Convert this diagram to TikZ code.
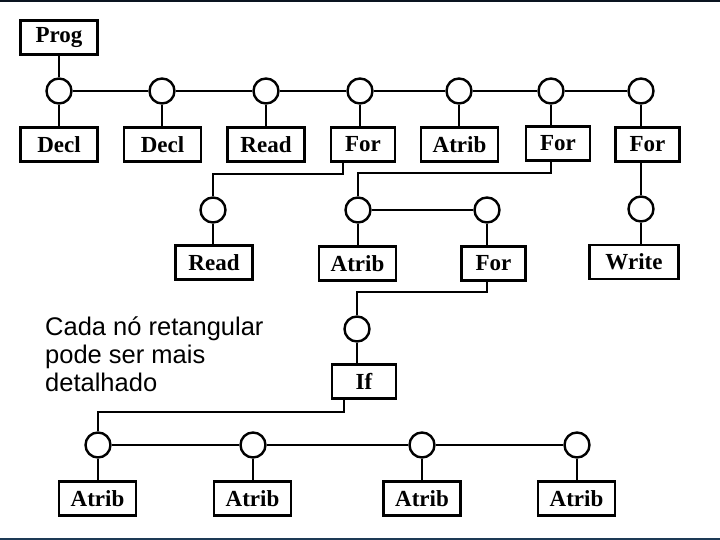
\documentclass[tikz,border=0pt]{standalone}
\usepackage{fontspec}
\setmainfont{Liberation Serif}
\newfontfamily\labelsans{Liberation Sans}
\usetikzlibrary{calc}
\definecolor{topband}{HTML}{0A1420}
\definecolor{botband}{HTML}{1D3A56}
\begin{document}
\begin{tikzpicture}[x=1bp,y=-1bp,
  treebox/.style={draw=black,line width=2.8bp,fill=white,inner sep=0pt,
    minimum height=34bp,font=\fontsize{23bp}{26bp}\selectfont\bfseries},
  w66/.style={minimum width=64bp},
  w79/.style={minimum width=77bp},
  w92/.style={minimum width=89bp},
  joint/.style={circle,draw=black,line width=2.4bp,fill=white,inner sep=0pt,minimum size=25bp},
  link/.style={line width=1.3bp,black},
  boldlink/.style={line width=2bp,black}]
\useasboundingbox (0,0) rectangle (720,540);
\fill[white] (0,0) rectangle (720,540);
\fill[topband] (0,0) rectangle (720,2.5);
\fill[botband] (0,537.5) rectangle (720,540);

% boxes
\node[treebox,w79] (prog) at (59,37.5) {Prog};
\node[treebox,w79] (decl1) at (59,144.5) {Decl};
\node[treebox,w79] (decl2) at (162.5,144.5) {Decl};
\node[treebox,w79] (read1) at (266,144.5) {Read};
\node[treebox,w66] (for1) at (363,144.5) {For};
\node[treebox,w79] (atrib1) at (459.5,144.5) {Atrib};
\node[treebox,w66] (for2) at (558,143.5) {For};
\node[treebox,w66] (for3) at (647.5,144.5) {For};
\node[treebox,w79] (read2) at (214,262.5) {Read};
\node[treebox,w79] (atrib2) at (357.5,263.5) {Atrib};
\node[treebox,w66] (for4) at (493.5,263.5) {For};
\node[treebox,w92] (write) at (634,262) {Write};
\node[treebox,w66] (if) at (364,381.5) {If};
\node[treebox,w79] (ab1) at (97.5,498.5) {Atrib};
\node[treebox,w79] (ab2) at (252.5,498.5) {Atrib};
\node[treebox,w79] (ab3) at (422,498.5) {Atrib};
\node[treebox,w79] (ab4) at (576.5,498.5) {Atrib};

% joints
\node[joint] (c1) at (59,91) {};
\node[joint] (c2) at (162,91) {};
\node[joint] (c3) at (266,91) {};
\node[joint] (c4) at (360,91) {};
\node[joint] (c5) at (459,91) {};
\node[joint] (c6) at (551,91) {};
\node[joint] (c7) at (641,91) {};
\node[joint] (cr2) at (213,210) {};
\node[joint] (ca2) at (358,210) {};
\node[joint] (cf4) at (487,210) {};
\node[joint] (cw) at (641,209) {};
\node[joint] (cif) at (357,329) {};
\node[joint] (cb1) at (98,445) {};
\node[joint] (cb2) at (253,445) {};
\node[joint] (cb3) at (422,445) {};
\node[joint] (cb4) at (577,445) {};

% top level
\draw[link] (prog.south) -- (c1.north);
\draw[link] (c1) -- (c2);
\draw[link] (c2) -- (c3);
\draw[link] (c3) -- (c4);
\draw[link] (c4) -- (c5);
\draw[link] (c5) -- (c6);
\draw[link] (c6) -- (c7);
\draw[link] (c1.south) -- (c1.south |- decl1.north);
\draw[boldlink] (c2.south) -- (c2.south |- decl2.north);
\draw[link] (c3.south) -- (c3.south |- read1.north);
\draw[link] (c4.south) -- (c4.south |- for1.north);
\draw[link] (c5.south) -- (c5.south |- atrib1.north);
\draw[link] (c6.south) -- (c6.south |- for2.north);
\draw[link] (c7.south) -- (c7.south |- for3.north);

% second level
\draw[link] ([xshift=-20bp]for1.south) -- ++(0,11) -| (cr2.north);
\draw[link] (cr2.south) -- (cr2.south |- read2.north);
\draw[link] ([xshift=-7bp]for2.south) -- ++(0,11) -| (ca2.north);
\draw[link] (ca2) -- (cf4);
\draw[link] (ca2.south) -- (ca2.south |- atrib2.north);
\draw[link] (cf4.south) -- (cf4.south |- for4.north);
\draw[link] (cw.north |- for3.south) -- (cw.north);
\draw[link] (cw.south) -- (cw.south |- write.north);

% third level
\draw[link] ([xshift=-6.5bp]for4.south) -- ++(0,10) -| (cif.north);
\draw[link] (cif.south) -- (cif.south |- if.north);
\draw[link] ([xshift=-20bp]if.south) -- ++(0,12) -| (cb1.north);
\draw[boldlink] (cb1) -- (cb2);
\draw[link] (cb2) -- (cb3);
\draw[link] (cb3) -- (cb4);
\draw[link] (cb1.south) -- (cb1.south |- ab1.north);
\draw[link] (cb2.south) -- (cb2.south |- ab2.north);
\draw[link] (cb3.south) -- (cb3.south |- ab3.north);
\draw[boldlink] (cb4.south) -- (cb4.south |- ab4.north);

% note
\node[anchor=north west,inner sep=0pt,align=left,
  font=\labelsans\fontsize{25.5bp}{28bp}\selectfont] (note) at (45,317)
  {Cada nó retangular\\pode ser mais\\detalhado};
\end{tikzpicture}
\end{document}
